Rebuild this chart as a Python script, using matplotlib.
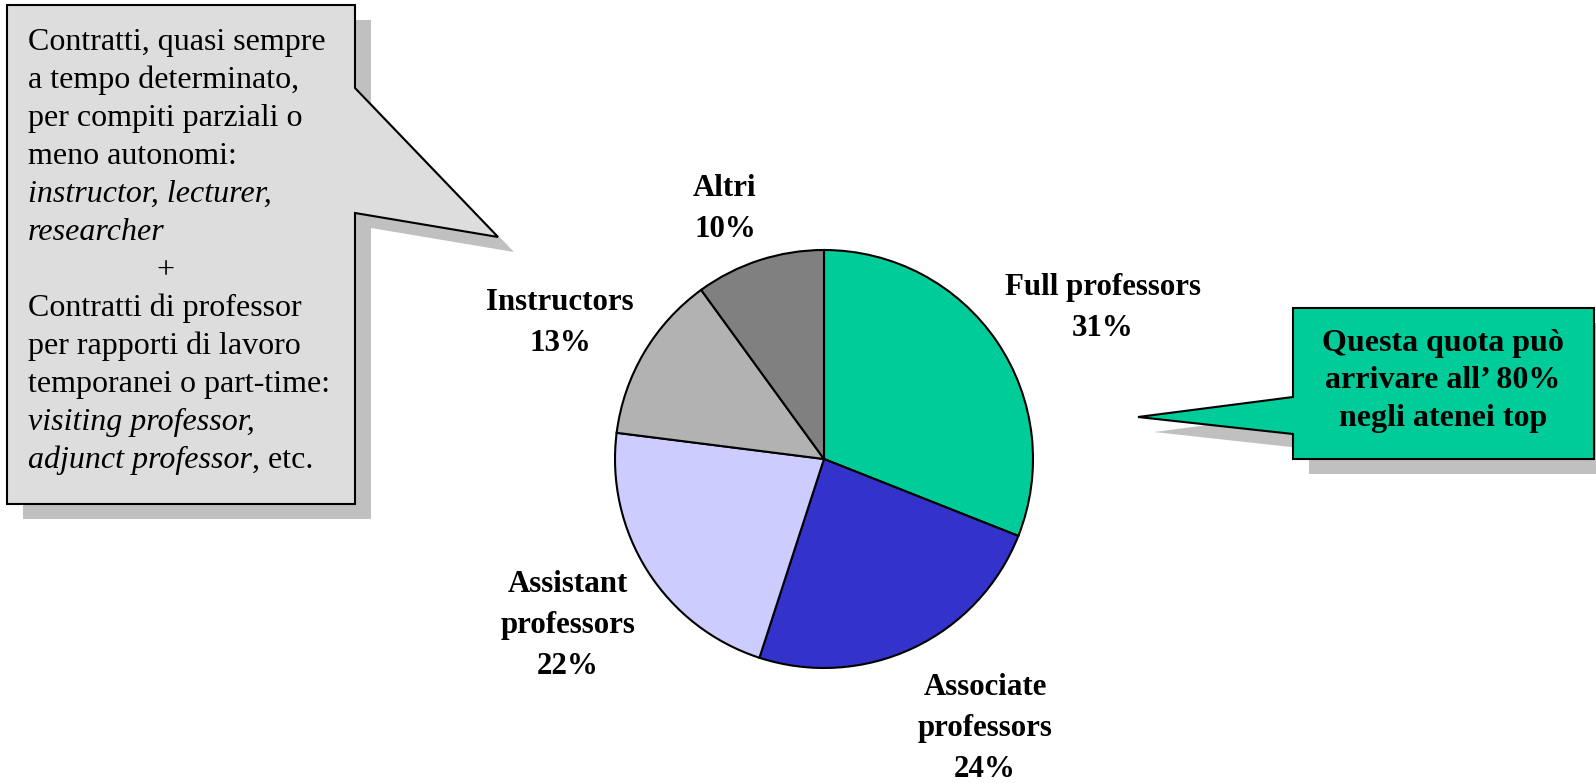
import matplotlib
matplotlib.use('Agg')
import matplotlib.pyplot as plt
from matplotlib.patches import Polygon

plt.rcParams['font.family'] = ['Liberation Serif', 'DejaVu Serif']

W, H = 1596, 783

# Composizione del corpo docente
categorie = ["Full professors", "Associate\nprofessors", "Assistant\nprofessors",
             "Instructors", "Altri"]
quote = [31, 24, 22, 13, 10]
colori = ["#00CC99", "#3333CC", "#CCCCFF", "#B2B2B2", "#808080"]

# posizione etichette: centro x, baseline della prima riga (pixel dall'alto)
pos_etichette = [(1103, 295), (985, 695), (568, 592), (560, 310), (725, 196)]

# testo del riquadro a sinistra: (frammenti, corsivo?)
righe_sx = [
    [("Contratti, quasi sempre", False)],
    [("a tempo determinato,", False)],
    [("per compiti parziali o", False)],
    [("meno autonomi:", False)],
    [("instructor, lecturer,", True)],
    [("researcher", True)],
    [("+", False)],
    [("Contratti di professor", False)],
    [("per rapporti di lavoro", False)],
    [("temporanei o part-time:", False)],
    [("visiting professor,", True)],
    [("adjunct professor", True), (", etc.", False)],
]
righe_dx = ["Questa quota può", "arrivare all\u2019 80%", "negli atenei top"]


def up(y):
    return H - y


fig = plt.figure(figsize=(W / 100, H / 100), dpi=100, facecolor='white')
ax = fig.add_axes([0, 0, 1, 1])

# torta
ax.pie(quote, colors=colori, startangle=90, counterclock=False,
       center=(824, up(459)), radius=209,
       wedgeprops=dict(edgecolor='black', linewidth=1.5))

for (cat, q), (cx, by) in zip(zip(categorie, quote), pos_etichette):
    linee = cat.split("\n") + [f"{q}%"]
    for i, ln in enumerate(linee):
        ax.text(cx, up(by + i * 41), ln, ha='center', va='baseline',
                fontsize=22.2, fontweight='bold', color='black')


def fumetto(vertici, colore, ombra=(16, 15)):
    dx, dy = ombra
    sh = [(x + dx, up(y + dy)) for x, y in vertici]
    ax.add_patch(Polygon(sh, closed=True, facecolor='#C0C0C0',
                         edgecolor='none', zorder=3))
    ax.add_patch(Polygon([(x, up(y)) for x, y in vertici], closed=True,
                         facecolor=colore, edgecolor='black',
                         linewidth=1.5, zorder=4))


# riquadro grigio a sinistra
fumetto([(7, 5), (355, 5), (355, 88), (498, 237), (355, 213),
         (355, 504), (7, 504)], '#DDDDDD')

# riquadro verde a destra
fumetto([(1293, 308), (1594, 308), (1594, 459), (1293, 459),
         (1293, 434), (1138, 417), (1293, 397)], '#00CC99')

renderer = fig.canvas.get_renderer()
for i, riga in enumerate(righe_sx):
    y = up(50 + i * 38.0)
    if riga[0][0] == "+":
        ax.text(165, y, "+", ha='center', va='baseline', fontsize=23, zorder=5)
        continue
    x = 28
    for testo, corsivo in riga:
        t = ax.text(x, y, testo, ha='left', va='baseline', fontsize=23,
                    fontstyle='italic' if corsivo else 'normal', zorder=5)
        x += t.get_window_extent(renderer).width

for i, ln in enumerate(righe_dx):
    ax.text(1443, up(351 + i * 37.5), ln, ha='center', va='baseline',
            fontsize=23, fontweight='bold', zorder=5)

ax.set_xlim(0, W)
ax.set_ylim(0, H)
ax.set_aspect('auto')
ax.axis('off')

fig.savefig("out.png", dpi=100, facecolor='white')
